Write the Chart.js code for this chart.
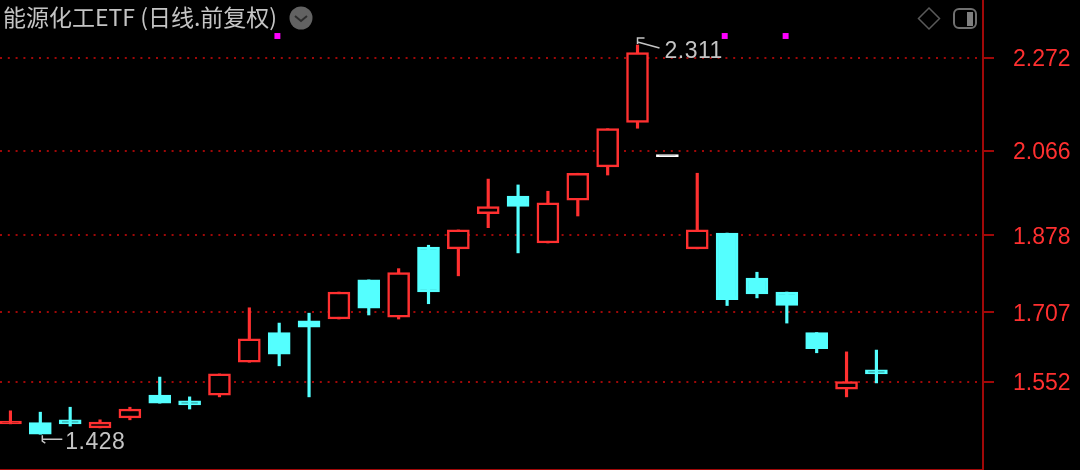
<!DOCTYPE html>
<html>
<head>
<meta charset="utf-8">
<title>能源化工ETF</title>
<script src="https://cdn.jsdelivr.net/npm/chart.js@4"></script>
<style>
  html, body { margin: 0; background: #000; }
  canvas { display: block; }
</style>
</head>
<body>
<canvas id="klineChart" width="1080" height="470"></canvas>
<script>
/* -------------------- DATA -------------------- */
const sessions = [0, 1, 2, 3, 4, 5, 6, 7, 8, 9, 10, 11, 12, 13, 14, 15, 16, 17, 18, 19, 20, 21, 22, 23, 24, 25, 26, 27, 28, 29];
const opens = [1.459, 1.462, 1.468, 1.450, 1.472, 1.523, 1.510, 1.523, 1.596, 1.662, 1.688, 1.692, 1.779, 1.696, 1.852, 1.848, 1.926, 1.965, 1.861, 1.956, 2.030, 2.129, 2.053, 1.848, 1.883, 1.783, 1.752, 1.662, 1.536, 1.579];
const closes = [1.465, 1.436, 1.459, 1.463, 1.492, 1.505, 1.501, 1.570, 1.648, 1.614, 1.674, 1.752, 1.716, 1.795, 1.752, 1.890, 1.942, 1.942, 1.950, 2.016, 2.115, 2.284, 2.053, 1.890, 1.735, 1.748, 1.722, 1.626, 1.553, 1.570];
const highs = [1.488, 1.485, 1.496, 1.468, 1.496, 1.563, 1.519, 1.570, 1.717, 1.683, 1.705, 1.752, 1.779, 1.804, 1.856, 1.890, 2.003, 1.990, 1.976, 2.016, 2.115, 2.301, 2.053, 2.016, 1.883, 1.796, 1.752, 1.662, 1.619, 1.623];
const lows = [1.459, 1.436, 1.454, 1.450, 1.468, 1.505, 1.492, 1.519, 1.596, 1.588, 1.519, 1.692, 1.701, 1.692, 1.726, 1.788, 1.895, 1.839, 1.861, 1.921, 2.012, 2.116, 2.053, 1.848, 1.722, 1.739, 1.683, 1.617, 1.519, 1.550];
const tickValues = [1.552, 1.707, 1.878, 2.066, 2.272];

const markerSessions = [8.94, 23.92, 25.96];
const markerValues = [2.321, 2.321, 2.321];

const titleText = "能源化工ETF (日线.前复权)";
const highLabel = "2.311";
const lowLabel = "1.428";
const highSession = 21;
const lowSession = 1;

/* -------------------- COLOURS -------------------- */
const RED = "#ff3030";
const CYAN = "#54ffff";
const DARK_RED = "#a00808";
const GREY = "#c4c4c4";

function candleColor(i) {
  if (opens[i] === closes[i]) return "#ffffff";
  return closes[i] > opens[i] ? RED : CYAN;
}

// up candles are hollow, unless the body is too thin to show a hole
function candleFill(i) {
  const hollow = closes[i] - opens[i] > 0.007;
  return hollow ? "#000000" : candleColor(i);
}

/* -------------------- OVERLAY: title, icons, high / low labels -------------------- */
const overlay = {
  id: "overlay",
  afterDraw(chart) {
    const c = chart.ctx;
    const xs = chart.scales.x;
    const ys = chart.scales.y;
    c.save();

    c.fillStyle = GREY;
    c.textBaseline = "alphabetic";
    c.font = '23px "Noto Sans CJK SC"';
    c.fillText(titleText, 3, 26);

    // dropdown button
    c.fillStyle = "#626262";
    c.beginPath();
    c.arc(301, 18, 11.5, 0, Math.PI * 2);
    c.fill();
    c.strokeStyle = "#2c2c2c";
    c.lineWidth = 2;
    c.beginPath();
    c.moveTo(295, 16);
    c.lineTo(301, 21);
    c.lineTo(307, 16);
    c.stroke();

    // diamond
    c.strokeStyle = "#5a5a5a";
    c.lineWidth = 1.5;
    c.beginPath();
    c.moveTo(929, 8);
    c.lineTo(939.5, 18.5);
    c.lineTo(929, 29);
    c.lineTo(918.5, 18.5);
    c.closePath();
    c.stroke();

    // panel toggle
    c.strokeStyle = "#707070";
    c.lineWidth = 2;
    c.beginPath();
    c.roundRect(954, 9, 22, 19, 5);
    c.stroke();
    c.fillStyle = "#808080";
    c.fillRect(967, 12, 6, 14);

    // high / low labels hang off their candles
    c.strokeStyle = GREY;
    c.fillStyle = GREY;
    c.font = '23px "Liberation Sans"';
    c.letterSpacing = "0.5px";
    c.lineWidth = 1.5;

    const hx = xs.getPixelForValue(highSession);
    const hy = ys.getPixelForValue(highs[highSession]);
    c.beginPath();
    c.moveTo(hx + 7, hy - 7);
    c.lineTo(hx, hy - 7);
    c.lineTo(hx, hy - 1);
    c.moveTo(hx, hy - 3);
    c.lineTo(hx + 22, hy + 3);
    c.stroke();
    c.fillText(highLabel, hx + 27, hy + 13);

    const lx = xs.getPixelForValue(lowSession);
    const ly = ys.getPixelForValue(lows[lowSession]);
    c.beginPath();
    c.moveTo(lx + 22, ly + 5);
    c.lineTo(lx + 2, ly + 5);
    c.moveTo(lx + 2, ly + 1);
    c.lineTo(lx + 2, ly + 7);
    c.lineTo(lx + 5, ly + 9);
    c.stroke();
    c.fillText(lowLabel, lx + 25, ly + 15);

    c.restore();
  }
};

/* -------------------- CHART -------------------- */
new Chart(document.getElementById("klineChart"), {
  type: "bar",
  data: {
    datasets: [
      {
        type: "scatter",
        order: 0,
        data: markerSessions.map((x, i) => ({ x: x, y: markerValues[i] })),
        pointStyle: "rect",
        pointRadius: 4.2,
        pointBorderWidth: 0,
        pointBackgroundColor: "#ff00ff"
      },
      {
        order: 1,
        grouped: false,
        data: sessions.map(i => ({ x: i, y: [opens[i], closes[i]] })),
        barThickness: 22,
        minBarLength: 2,
        borderWidth: 2.5,
        borderSkipped: false,
        borderColor: ctx => candleColor(ctx.dataIndex),
        backgroundColor: ctx => candleFill(ctx.dataIndex)
      },
      {
        order: 2,
        grouped: false,
        data: sessions.map(i => ({ x: i, y: [lows[i], highs[i]] })),
        barThickness: 2.5,
        borderWidth: 0,
        backgroundColor: ctx => candleColor(ctx.dataIndex)
      }
    ]
  },
  plugins: [overlay],
  options: {
    responsive: false,
    animation: false,
    layout: { padding: 0, autoPadding: false },
    plugins: { legend: { display: false }, tooltip: { enabled: false } },
    scales: {
      x: {
        type: "linear",
        offset: false,
        min: -0.35,
        max: 32.57,
        ticks: { display: false },
        grid: { display: false },
        border: { color: DARK_RED, width: 1 },
        afterFit(axis) {
          axis.height = 1;
          axis.paddingLeft = 0;
          axis.paddingRight = 0;
        }
      },
      y: {
        position: "right",
        min: 1.3587,
        max: 2.401,
        afterBuildTicks(axis) {
          axis.ticks = tickValues.map(v => ({ value: v }));
        },
        afterFit(axis) {
          axis.width = 97;
          axis.paddingTop = 0;
          axis.paddingBottom = 0;
        },
        ticks: {
          color: RED,
          padding: 19,
          labelOffset: 2,
          font: { family: "Liberation Sans", size: 23 },
          callback: v => v.toFixed(3)
        },
        grid: {
          color: DARK_RED,
          lineWidth: 2,
          tickLength: 11,
          tickColor: DARK_RED,
          tickWidth: 2
        },
        border: { color: DARK_RED, width: 2, dash: [2, 5.8] }
      }
    }
  }
});
</script>
</body>
</html>
